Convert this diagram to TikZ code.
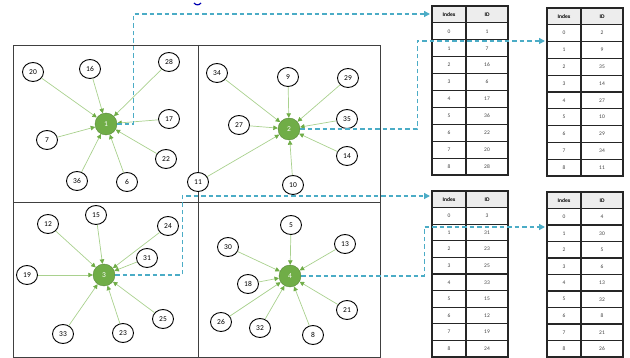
\documentclass[tikz,border=0pt]{standalone}
\usepackage{fontspec}
\setmainfont{Carlito}
\usetikzlibrary{arrows.meta,shapes.geometric,calc}
\definecolor{nodegreen}{HTML}{70AD47}
\definecolor{edgegreen}{HTML}{A9D18E}
\definecolor{linkblue}{HTML}{4BACC6}
\definecolor{gridgray}{HTML}{404040}
\definecolor{hdrgray}{HTML}{EDEDED}
\tikzset{
 leaf/.style={ellipse, draw=black, line width=0.9pt, fill=white, minimum width=21pt, minimum height=19pt, inner sep=0pt, font=\fontsize{7.5}{8}\selectfont},
 hub/.style={circle, fill=nodegreen, draw=nodegreen!80!black, line width=0.4pt, minimum size=22pt, inner sep=0pt, text=white, font=\fontsize{7.5}{8}\selectfont},
 edge/.style={draw=edgegreen, line width=0.7pt, -{Triangle[length=4.5pt,width=4.5pt,color=nodegreen]}},
 link/.style={draw=linkblue, line width=1.3pt, dash pattern=on 4.5pt off 3pt, -{Triangle[length=6pt,width=6pt]}},
 cell/.style={draw=black!85, line width=1.05pt, inner sep=0pt, outer sep=0pt, anchor=north west, font=\fontsize{5.5}{6}\selectfont, text=black!75},
 hdr/.style={cell, fill=hdrgray, font=\fontsize{5.5}{6}\selectfont\bfseries, text=black},
 grid/.style={draw=gridgray, line width=0.8pt},
}
\newcommand\idxtable[5]{%
  \node[hdr, minimum width=34pt, minimum height=#4pt] (#1-h0) at (#2,#3) {Index};
  \node[hdr, minimum width=42pt, minimum height=#4pt] (#1-h1) at (#2+34,#3) {ID};
  \foreach \v [count=\i from 0] in {#5} {
    \node[cell, minimum width=34pt, minimum height=#4pt] (#1-i\i) at (#2, #3+#4*\i+#4) {\i};
    \node[cell, minimum width=42pt, minimum height=#4pt] (#1-v\i) at (#2+34, #3+#4*\i+#4) {\v};
  }%
}
\begin{document}
\begin{tikzpicture}[x=1pt,y=-1pt]
\useasboundingbox (0,0) rectangle (630,358);
% grid
\draw[grid] (13,45) rectangle (380,357);
\draw[grid] (198,45) -- (198,357);
\draw[grid] (13,202) -- (380,202);
% small blue mark
\draw[color=blue!70!black, line width=1.2pt] (194,3) .. controls (196,5.5) and (199,5.5) .. (201,3);
% hubs
\node[hub] (c1) at (106,124) {1};
\node[hub] (c2) at (289,129) {2};
\node[hub] (c3) at (104,275) {3};
\node[hub] (c4) at (290,276) {4};
% leaves
\foreach \n/\x/\y in {20/33/72,16/90/69,28/169/62,17/169/119,7/47/140,22/166/159,36/77/181,6/127/182,
  34/217/73,9/288/77,29/348/78,27/239/125,35/347/119,14/347/156,10/293/185,11/198/182,
  12/48/224,15/96/215,24/168/226,31/147/258,19/27/275,33/63/334,23/123/333,25/163/319,
  5/291/225,30/228/247,13/345/244,18/248/284,26/221/322,32/260/328,8/313/335,21/347/310}
  \node[leaf] (n\n) at (\x,\y) {\n};
% edges
\foreach \n in {20,16,28,17,7,22,36,6} \draw[edge] (n\n) -- (c1);
\foreach \n in {34,9,29,27,35,14,10,11} \draw[edge] (n\n) -- (c2);
\foreach \n in {12,15,24,31,19,33,23,25} \draw[edge] (n\n) -- (c3);
\foreach \n in {5,30,13,18,26,32,8,21} \draw[edge] (n\n) -- (c4);
% tables
\idxtable{tA}{432}{6}{16.9}{1,7,16,6,17,36,22,20,28}
\idxtable{tB}{547}{8}{16.8}{2,9,35,14,27,10,29,34,11}
\idxtable{tC}{432}{191}{16.6}{3,31,23,25,33,15,12,19,24}
\idxtable{tD}{547}{192}{16.5}{4,30,5,6,13,32,8,21,26}
% links
\coordinate (in1) at (430,14);
\coordinate (in2) at (545,41);
\coordinate (in3) at (430,196);
\coordinate (in4) at (545,227);
\draw[link] (c1.east) -- ++(16.5,0) |- (in1);
\draw[link] (c2.east) -- ++(117,0) |- (in2);
\draw[link] (c3.east) -- ++(67,0) |- (in3);
\draw[link] (c4.east) -- ++(123,0) |- (in4);
\end{tikzpicture}
\end{document}
